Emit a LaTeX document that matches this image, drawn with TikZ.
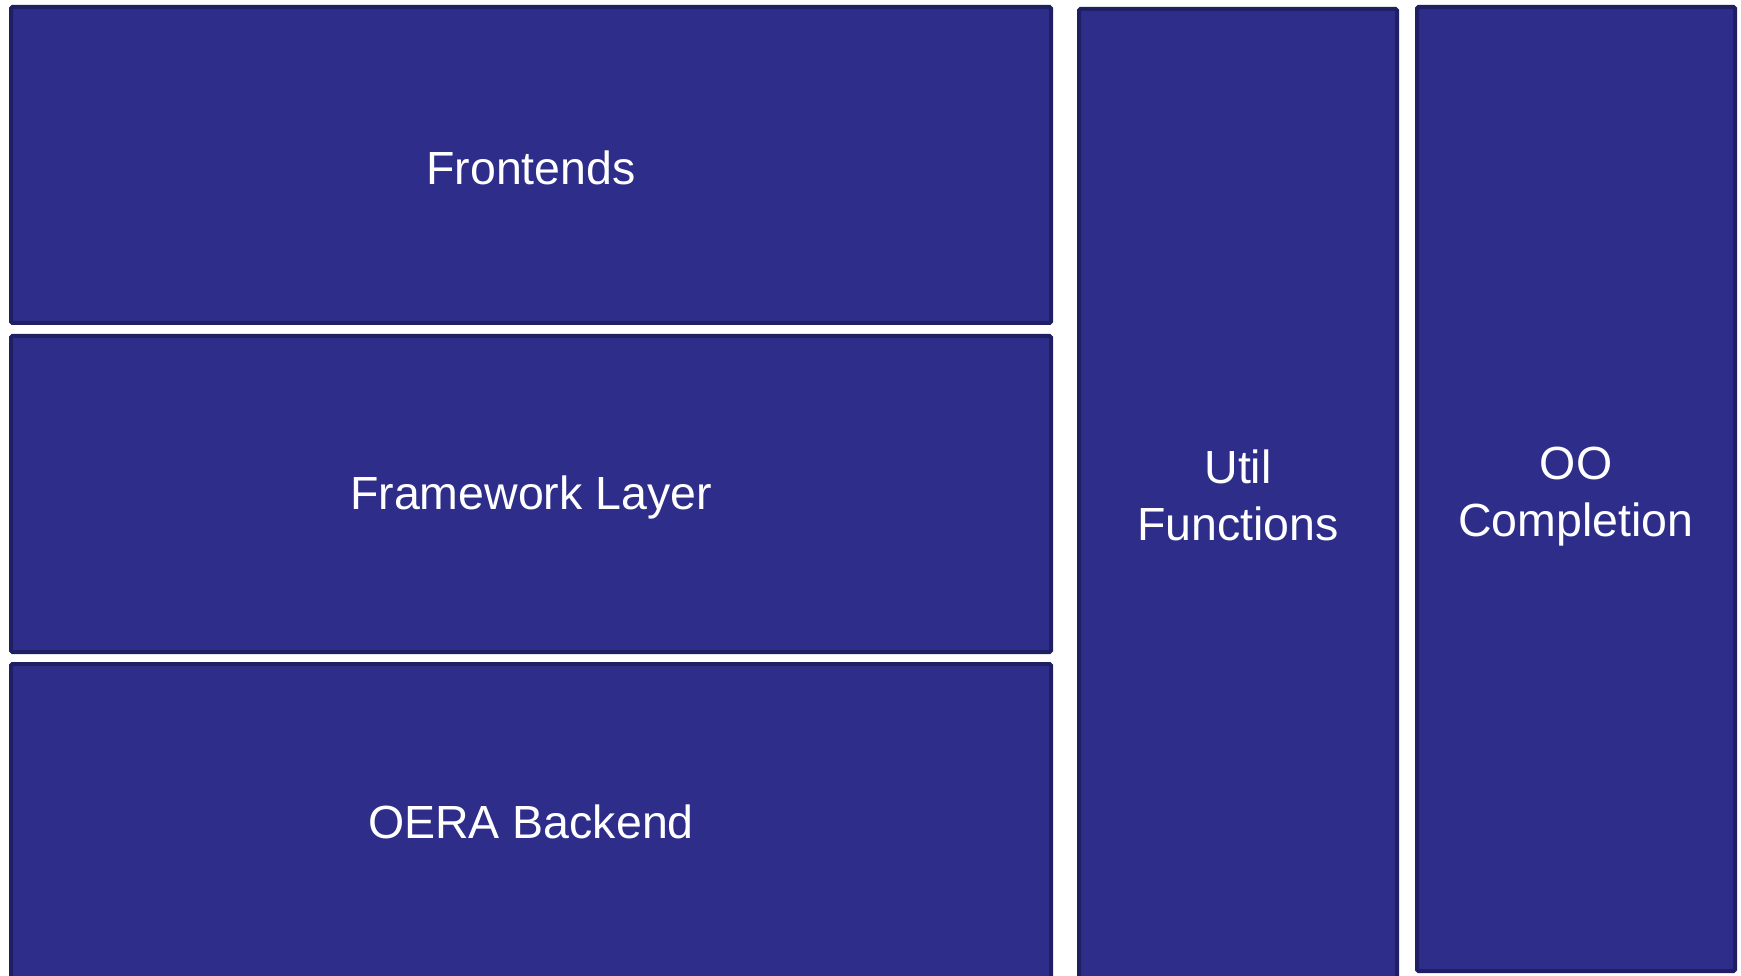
\documentclass[tikz,border=0pt]{standalone}
\usepackage{fontspec}
\setmainfont{Liberation Sans}
\usepackage{tikz}
\definecolor{blockfill}{RGB}{46,46,138}
\definecolor{blockline}{RGB}{31,31,100}
\tikzset{block/.style={draw=blockline,fill=blockfill,line width=4pt,rounded corners=1.5pt,
        text=white,align=center,inner sep=0pt,text height=40pt,
        font=\fontsize{46.5}{57}\selectfont}}

\begin{document}
\begin{tikzpicture}[x=1pt,y=-1pt]
        \useasboundingbox (0,0) rectangle (1741,976);
        \node[block,minimum width=1040pt,minimum height=316pt] (front) at (531,165) {Frontends};
        \node[block,minimum width=1040pt,minimum height=316pt] (frame) at (531,494) {Framework Layer};
        \node[block,text height=30pt,minimum width=1040pt,minimum height=319pt] (oera) at (531,823.5) {OERA Backend};
        %\node[block] (util) at (1238,490) {Util};
        \node[block,text height=90pt,minimum width=318pt,minimum height=974pt] (util) at (1238,496) {Util\\Functions};
        \node[block,text height=105pt,minimum width=318pt,minimum height=964pt] (oo) at (1576,489) {OO\\Completion};
    \end{tikzpicture}
\end{document}
